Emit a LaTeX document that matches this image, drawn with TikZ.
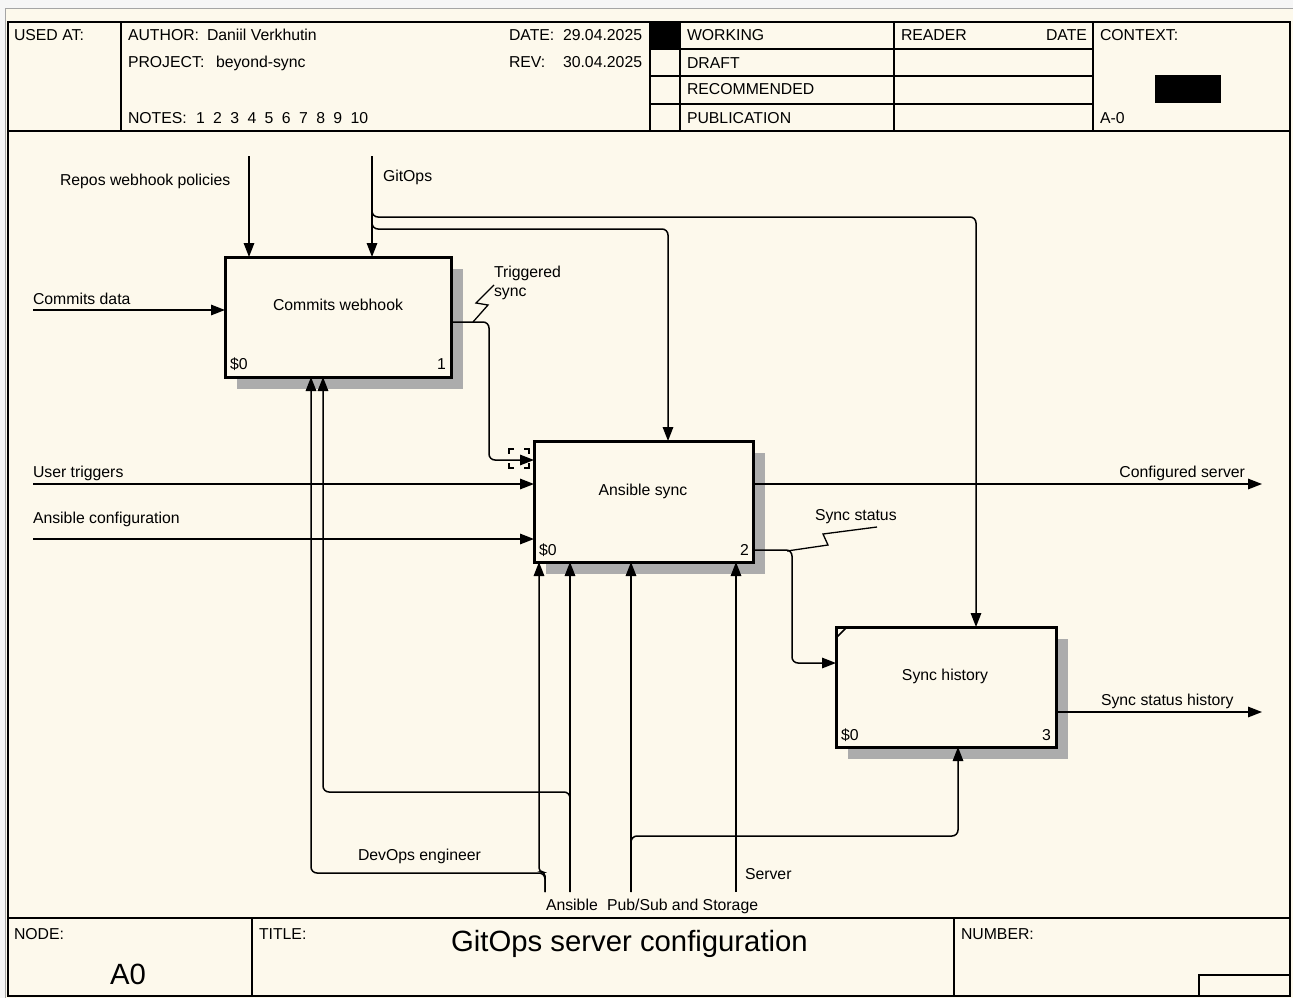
\documentclass[tikz,border=0pt]{standalone}
\usepackage{fontspec}
\setmainfont{Liberation Sans}
\usetikzlibrary{arrows.meta,shadows}
\definecolor{cream}{RGB}{253,249,236}
\definecolor{shadowgray}{RGB}{172,172,172}
\definecolor{outergray}{RGB}{246,246,246}
\definecolor{edgegray}{RGB}{165,165,165}
\begin{document}
\begin{tikzpicture}[x=1pt,y=-1pt,
  txt/.style={font=\fontsize{15.8}{18}\selectfont, inner sep=0pt, outer sep=0pt, text=black},
  lbl/.style={txt, anchor=base west},
  lblr/.style={txt, anchor=base east},
  lblc/.style={txt, anchor=base},
  box/.style={draw, line width=3pt, fill=cream, inner sep=0pt, outer sep=0pt,
    drop shadow={shadow xshift=12pt, shadow yshift=-12pt, fill=shadowgray, opacity=1}},
  conn/.style={line width=1.5pt},
  arr/.style={conn, -{Triangle[length=14pt,width=10.5pt]}},
  frame/.style={line width=2pt},
  thin/.style={line width=1.3pt}]
\useasboundingbox (0,0) rectangle (1293,998);
\fill[outergray] (0,0) rectangle (1293,998);
\fill[cream] (6,9) rectangle (1293,998);
\draw[edgegray, line width=1pt] (5.5,998) -- (5.5,8.5) -- (1293,8.5);

% frame
\draw[frame] (8,22) rectangle (1290,996);
\draw[frame] (8,131) -- (1290,131);
\draw[frame] (8,918) -- (1290,918);
\foreach \x in {121,650,680,894,1093} \draw[frame] (\x,22) -- (\x,131);
\foreach \y in {49,76,104} \draw[frame] (650,\y) -- (1093,\y);
\fill (650,22) rectangle (680,49);
\fill (1155,75) rectangle (1221,103);
\foreach \x in {252,954} \draw[frame] (\x,918) -- (\x,996);
\draw[frame] (1199,996) |- (1290,975);

% header texts
\node[lbl] (usedat) at (14,41) {USED AT:};
\node[lbl] (author) at (128,41) {AUTHOR:};
\node[lbl] (authorv) at (207,41) {Daniil Verkhutin};
\node[lbl] (project) at (128,67) {PROJECT:};
\node[lbl] (projectv) at (216,67) {beyond-sync};
\node[lbl] (notes) at (128,123) {NOTES:};
\node[lbl] (notesv) at (196,123) {1\hspace{8.4pt}2\hspace{8.4pt}3\hspace{8.4pt}4\hspace{8.4pt}5\hspace{8.4pt}6\hspace{8.4pt}7\hspace{8.4pt}8\hspace{8.4pt}9\hspace{8.4pt}10};
\node[lbl] (date) at (509,41) {DATE:};
\node[lbl] (datev) at (563,41) {29.04.2025};
\node[lbl] (rev) at (509,67) {REV:};
\node[lbl] (revv) at (563,67) {30.04.2025};
\node[lbl] (working) at (687,41) {WORKING};
\node[lbl] (draft) at (687,68) {DRAFT};
\node[lbl] (recom) at (687,95) {RECOMMENDED};
\node[lbl] (publ) at (687,123) {PUBLICATION};
\node[lbl] (reader) at (901,41) {READER};
\node[lblr] (rdate) at (1087,41) {DATE};
\node[lbl] (context) at (1100,41) {CONTEXT:};
\node[lbl] (azero) at (1100,123) {A-0};

% footer texts
\node[lbl] (nodel) at (14,939) {NODE:};
\node[lbl] (titlel) at (259,939) {TITLE:};
\node[lbl] (numberl) at (961,939) {NUMBER:};
\node[txt, anchor=base, font=\fontsize{29.3}{34}\selectfont] (title) at (629.5,951) {GitOps server configuration};
\node[txt, anchor=base, font=\fontsize{29.3}{34}\selectfont] (nodev) at (128,984) {A0};

% boxes
\node[box, minimum width=226pt, minimum height=120pt] (b1) at (338,317) {};
\node[box, minimum width=219pt, minimum height=121pt] (b2) at (643.5,501.5) {};
\node[box, minimum width=220pt, minimum height=120pt] (b3) at (946,687) {};
\draw[conn] (836,638) -- (847,627);

\node[lblc] (t1) at (338,310) {Commits webhook};
\node[lblc] (t2) at (643,495) {Ansible sync};
\node[lblc] (t3) at (945,680) {Sync history};
\node[lbl] (c1) at (230,369) {\$0};
\node[lblr] (n1) at (446,369) {1};
\node[lbl] (c2) at (539,555) {\$0};
\node[lblr] (n2) at (749,555) {2};
\node[lbl] (c3) at (841,740) {\$0};
\node[lblr] (n3) at (1051,740) {3};

% controls
\coordinate (repos) at (249,156);
\draw[arr] (repos) -- (repos |- b1.north);
\node[lbl] (reposl) at (60,185) {Repos webhook policies};

\coordinate (gitops) at (372,156);
\draw[arr] (gitops) -- (gitops |- b1.north);
\draw[arr, rounded corners=6pt] (gitops) |- (976,217) -- (976,217 |- b3.north);
\draw[arr, rounded corners=6pt] (372,222) |- (668,229) -- (668,229 |- b2.north);
\node[lbl] (gitopsl) at (383,181) {GitOps};

% inputs
\coordinate (cdata) at (33,310);
\draw[arr] (cdata) -- (cdata -| b1.west);
\node[lbl] (cdatal) at (33,304) {Commits data};

\coordinate (utrig) at (33,484);
\draw[arr] (utrig) -- (utrig -| b2.west);
\node[lbl] (utrigl) at (33,477) {User triggers};

\coordinate (aconf) at (33,539);
\draw[arr] (aconf) -- (aconf -| b2.west);
\node[lbl] (aconfl) at (33,523) {Ansible configuration};

% triggered sync
\draw[arr, rounded corners=6pt] (b1.east |- 0,322) -| (489,460) -- (489,460 -| b2.west);
\draw[thin] (473,322) -- (488,305) -- (476,303) -- (494,285);
\node[lbl] (tsl1) at (494,277) {Triggered};
\node[lbl] (tsl2) at (494,296) {sync};
\draw[thin] (514,449) -- (509,449) -- (509,454);
\draw[thin] (509,463) -- (509,468) -- (514,468);
\draw[thin] (524,449) -- (529,449) -- (529,454);
\draw[thin] (529,463) -- (529,468) -- (524,468);

% outputs
\coordinate (cserv) at (1262,484);
\draw[arr] (cserv -| b2.east) -- (cserv);
\node[lblr] (cservl) at (1245,477) {Configured server};

\draw[arr, rounded corners=6pt] (b2.east |- 0,550) -| (792,663) -- (792,663 -| b3.west);
\draw[thin] (787,551) -- (828,545) -- (823,534) -- (877,527);
\node[lbl] (sstatl) at (815,520) {Sync status};

\coordinate (shist) at (1262,712);
\draw[arr] (shist -| b3.east) -- (shist);
\node[lbl] (shistl) at (1101,705) {Sync status history};

% mechanisms
\coordinate (devops) at (545,892);
\draw[arr, rounded corners=6pt] (devops) |- (311,873) -- (311,873 |- b1.south);
\draw[arr, rounded corners=4pt] (devops) |- (539,872) -- (539,872 |- b2.south);
\node[lbl] (devopsl) at (358,860) {DevOps engineer};

\coordinate (ansible) at (570,892);
\draw[arr] (ansible) -- (ansible |- b2.south);
\draw[arr, rounded corners=6pt] (ansible) |- (323,792) -- (323,792 |- b1.south);
\node[lbl] (ansiblel) at (546,910) {Ansible};

\coordinate (pubsub) at (631,892);
\draw[arr] (pubsub) -- (pubsub |- b2.south);
\draw[arr, rounded corners=6pt] (pubsub) |- (958,836) -- (958,836 |- b3.south);
\node[lbl] (pubsubl) at (607,910) {Pub/Sub and Storage};

\coordinate (server) at (736,892);
\draw[arr] (server) -- (server |- b2.south);
\node[lbl] (serverl) at (745,879) {Server};
\end{tikzpicture}
\end{document}
